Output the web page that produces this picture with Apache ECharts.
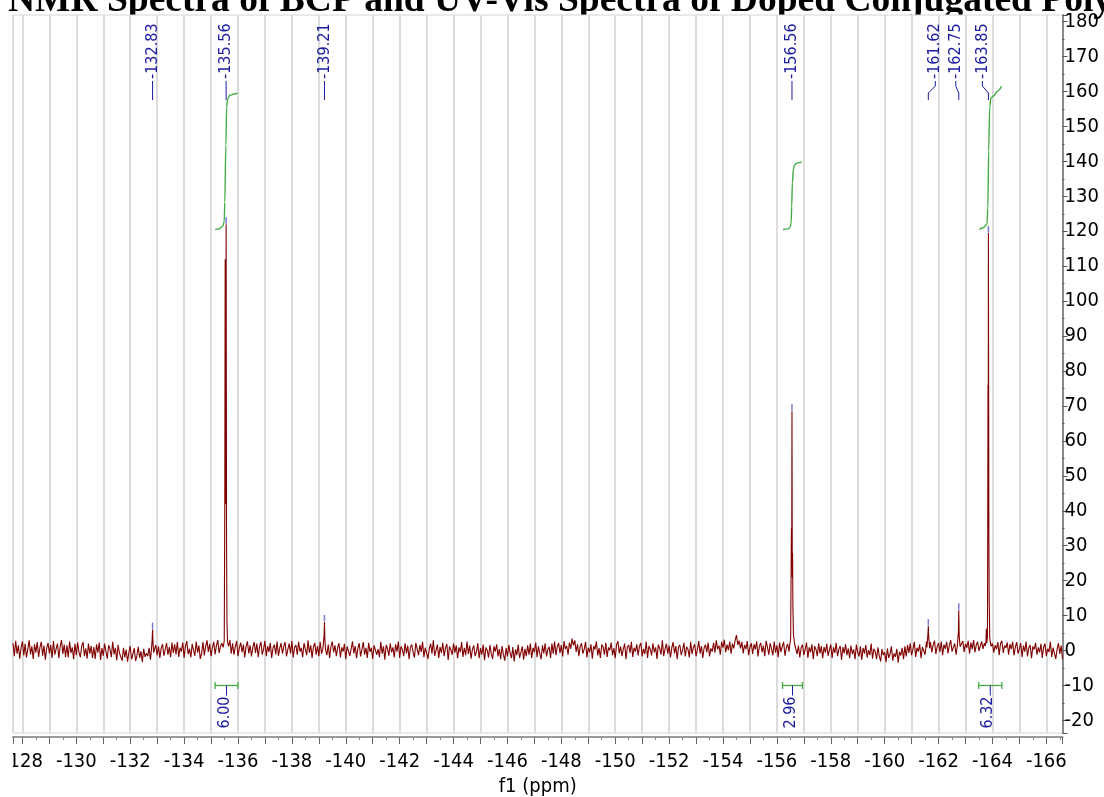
<!DOCTYPE html>
<html>
<head>
<meta charset="utf-8">
<script src="https://cdn.jsdelivr.net/npm/echarts/dist/echarts.min.js"></script>
<style>
  html, body { margin: 0; padding: 0; background: #fff; overflow: hidden; }
  #chart { width: 1104px; height: 797px; }
</style>
</head>
<body>
<div id="chart"></div>
<script>
// ---- 19F spectrum data (f1 in ppm) ----
const titleText = 'NMR Spectra of BCP and UV-Vis Spectra of Doped Conjugated Polymers';

// Baseline trace: first point and spacing of the digitised f1 axis (one row = 1 ppm)
const noiseStartPpm = -127.65;
const noiseStepPpm = -0.05;
const noiseIntensity = [
  2.1,-1.6,2.8,-0.9,1.5,-2.3,0.8,2.6,-1.4,1.9,-2.0,0.4,2.9,-1.1,1.2,-2.4,1.8,-0.6,2.4,-1.8,
  0.9,2.5,-1.5,1.4,-2.6,0.7,2.2,-0.8,1.6,-2.1,2.7,-1.2,0.5,2.0,-2.2,1.1,3.0,-1.0,1.7,-1.9,
  1.5,-2.0,2.6,-0.7,0.9,-2.5,1.9,-1.3,2.3,-0.5,-1.9,1.4,2.4,-1.6,0.6,-2.3,2.0,-0.9,1.3,-2.1,
  1.0,-2.4,1.8,-0.6,2.3,-2.7,0.7,-1.5,2.0,-0.3,-2.3,1.5,0.4,-1.9,2.5,-1.1,0.8,-2.8,1.6,-0.7,
  -0.4,-2.9,0.8,-2.0,0.3,-3.2,-0.6,1.3,-2.5,-1.0,0.7,-3.0,-1.4,1.1,-2.1,-0.2,-3.3,0.5,-1.8,-0.8,
  -1.6,0.8,-2.6,-0.4,0.6,-1.1,1.6,-1.4,1.2,-2.1,0.7,1.8,-1.5,0.3,2.1,-1.2,1.0,-1.9,2.3,-0.7,
  1.8,-1.1,2.5,-1.8,0.8,-0.3,2.3,-2.1,1.2,2.7,-1.0,0.5,-2.0,1.9,0.1,-1.5,2.6,-0.6,1.4,-2.4,
  -0.8,2.4,-1.4,1.2,2.9,-0.4,1.9,-1.6,0.8,2.5,-1.1,1.5,3.0,-0.7,1.1,2.1,1.2,0.8,1.5,1.0,
  1.4,3.0,-0.9,2.1,-1.2,1.1,2.8,-1.6,0.7,2.3,-0.5,1.7,-2.0,1.2,2.6,-0.8,1.5,-1.7,0.9,2.4,
  -0.7,2.0,-1.9,1.1,2.5,-1.2,0.5,2.8,-1.6,1.3,-0.4,2.2,-2.1,0.8,1.7,-1.1,2.6,-1.5,0.7,2.1,
  -0.9,1.2,2.4,-1.7,0.3,2.0,-0.8,2.7,-2.0,0.9,1.6,-1.2,2.5,-0.3,0.8,-1.9,2.1,0.4,-1.3,2.9,
  -0.6,1.5,-2.1,1.1,2.2,-1.2,1.3,-1.6,2.5,-0.9,0.5,0.4,0.6,-1.3,1.7,-2.1,1.1,2.6,-0.5,1.5,
  -1.6,0.8,2.1,-2.0,0.9,-0.3,1.9,-2.5,1.2,1.6,-1.5,0.5,2.6,-0.8,1.3,-2.2,0.7,2.1,-1.7,0.3,
  2.4,-1.2,0.8,-2.1,2.2,-0.4,0.8,-2.4,1.5,1.9,-1.2,0.4,-1.9,2.5,-0.9,1.2,-2.6,1.6,0.5,-1.5,
  2.1,-0.5,0.9,-2.0,1.8,-0.3,2.6,-2.1,1.2,0.3,-1.6,2.1,-0.8,1.4,-2.5,1.0,1.7,-0.5,-2.0,2.2,
  0.4,-1.3,1.6,-0.4,2.5,-1.9,0.8,1.3,-2.4,0.5,2.0,-0.9,2.9,-1.5,0.1,1.7,-2.1,1.0,-0.7,2.2,
  -1.6,0.7,1.9,-2.7,1.2,0.2,-1.2,2.0,-0.6,1.5,-2.2,0.9,-0.5,2.4,-1.8,0.8,-1.3,2.6,-1.0,1.4,
  -2.3,0.3,1.5,-1.6,-0.4,2.1,-2.2,0.7,-1.2,1.7,-2.8,0.9,0.1,-2.0,1.6,-0.9,-2.4,1.2,-0.3,1.8,
  -1.7,0.4,-2.5,1.3,-1.1,-2.9,0.8,-1.7,1.6,-0.7,-2.2,1.0,-3.1,0.3,-1.3,1.7,-2.1,-0.5,1.2,-2.6,
  0.5,-1.6,1.5,-1.2,2.0,-2.2,0.8,-0.5,2.3,-1.9,1.2,-0.8,-2.5,1.5,-0.8,2.1,-1.7,0.4,1.1,-2.1,
  2.0,-0.9,2.6,-1.3,1.1,2.2,-0.7,1.6,-1.7,2.7,0.4,1.3,-1.2,2.3,0.5,3.4,1.5,2.9,-0.4,1.8,
  -1.6,1.2,2.1,-0.9,0.4,2.5,-2.0,0.8,-0.5,1.8,-2.3,1.3,0.3,2.6,-1.4,0.7,-2.1,1.7,1.0,-1.2,
  2.2,-1.8,0.9,0.1,2.3,-1.3,0.7,-2.2,1.7,2.7,-0.8,1.2,-1.6,0.4,2.0,-2.5,1.0,1.6,-0.7,2.5,
  -1.8,0.8,-0.3,1.8,-1.4,1.2,2.2,-1.7,0.5,-1.0,2.6,-2.1,1.3,0.3,-1.4,2.1,-0.5,0.9,-2.4,1.7,
  0.6,-1.2,2.9,-1.6,0.4,2.0,-0.9,1.4,-2.0,0.8,2.4,-0.8,1.3,-2.5,1.0,1.6,-1.3,0.2,2.2,-1.7,
  1.1,0.4,-2.0,2.5,-1.0,0.9,1.8,-1.6,0.3,2.7,-0.9,1.3,-2.1,0.8,1.7,-0.5,2.3,-1.7,0.6,-0.3,
  2.2,-0.6,2.9,0.4,1.4,-1.2,2.5,0.8,3.1,-0.5,1.7,0.1,2.6,-0.9,2.0,0.6,2.9,4.4,1.6,2.8,
  0.6,2.5,-0.8,1.6,0.4,2.7,-1.3,1.0,2.1,-1.0,1.8,0.3,2.6,-1.7,1.2,2.2,-0.5,1.4,-1.6,2.8,
  0.9,-1.2,2.1,0.5,-1.4,2.6,-0.6,1.5,-1.9,2.3,-0.4,1.1,2.5,-1.5,0.8,1.9,-0.3,1.2,1.0,0.8,
  0.8,2.0,-1.0,1.4,-2.0,0.8,1.7,-1.3,0.3,2.3,-2.1,0.9,-0.5,1.8,-2.5,1.2,0.4,-1.6,2.1,-0.8,
  1.3,-2.2,1.0,-0.6,1.9,-1.5,0.2,1.7,-2.1,0.9,-0.7,2.2,-1.6,0.4,1.3,-2.6,1.0,-0.8,1.8,-1.3,
  0.6,-2.2,1.4,-1.0,0.3,-2.5,1.7,-0.5,-1.7,1.2,-2.7,0.8,-0.9,1.6,-2.0,0.1,-1.3,2.0,-2.3,0.5,
  -0.3,-2.5,0.9,-1.6,-3.1,0.4,-1.3,-0.5,-3.3,0.6,-2.1,-1.0,1.2,-2.9,-0.8,-1.8,0.5,-3.5,-0.4,-1.4,
  0.8,-2.5,1.2,-1.7,1.6,-0.7,2.1,-1.3,0.4,2.5,-1.8,0.8,-0.3,1.8,-2.2,1.0,1.5,-1.2,2.6,0.6,
  0.6,2.4,-0.5,1.6,2.8,-1.0,1.2,2.1,-0.4,2.6,-1.3,1.7,0.5,2.5,-0.8,1.4,3.0,-0.3,0.9,2.0,
  -1.2,1.5,1.4,0.9,0.7,2.7,-0.4,1.9,0.8,2.8,-0.9,2.3,0.4,3.0,-0.5,1.6,2.5,-0.1,1.3,2.6,
  0.5,2.1,1.6,-0.4,1.3,0.9,1.8,2.0,-0.6,1.5,0.4,2.4,-1.3,2.0,2.8,-0.7,1.4,0.8,2.3,-1.2,
  1.8,0.4,2.5,-1.4,1.0,2.4,-0.9,0.4,2.1,-1.8,1.4,-0.3,2.6,-1.7,0.8,1.6,-2.2,1.2,0.3,2.2,
  -1.2,0.9,-0.5,1.9,-2.1,1.0,2.0,-1.6,0.5,-0.4,2.5,-1.8,0.8,1.3,-2.4,0.4,2.1,-1.0,1.4,-2.5
];

// Picked peaks (ppm) and the line shape around each of them [ppm, intensity]
const peakPpm = [-132.83, -135.56, -139.21, -156.56, -161.62, -162.75, -163.85];
const peakProfiles = [
  [[-132.79, 0.4], [-132.815, 3.2], [-132.83, 6.0], [-132.845, 2.4], [-132.87, -0.6]],
  [[-135.45, 0.9], [-135.49, 2.8], [-135.51, 41], [-135.525, 112], [-135.54, 42], [-135.55, 70],
   [-135.56, 122], [-135.575, 32], [-135.59, 9], [-135.61, 2.5], [-135.65, 1.2]],
  [[-139.17, 0.6], [-139.195, 4.2], [-139.21, 8.2], [-139.225, 3.1], [-139.25, 0.2]],
  [[-156.47, 1.2], [-156.51, 3.4], [-156.525, 20], [-156.54, 35], [-156.55, 24], [-156.56, 68.5],
   [-156.572, 21], [-156.582, 28], [-156.595, 12], [-156.615, 4.5], [-156.66, 1.8]],
  [[-161.57, 0.9], [-161.605, 4.6], [-161.62, 7.0], [-161.635, 3.8], [-161.67, 0.7]],
  [[-162.70, 1.6], [-162.735, 5.2], [-162.75, 11.5], [-162.765, 4.3], [-162.80, 1.1]],
  [[-163.73, 1.3], [-163.76, 2.6], [-163.775, 6.2], [-163.79, 2.1], [-163.815, 4], [-163.825, 31],
   [-163.835, 76], [-163.845, 46], [-163.85, 119.5], [-163.868, 31], [-163.88, 14], [-163.90, 3.5],
   [-163.95, 1.2]]
];

// Integrated regions (ppm from, ppm to), their values and the running-integral shape (0..1)
const integralRanges = [[-135.15, -136.00], [-156.21, -156.95], [-163.49, -164.35]];
const integralValues = [6.00, 2.96, 6.32];
const integralProfiles = [
  [[-135.154, 0], [-135.30, 0.005], [-135.44, 0.025], [-135.49, 0.06], [-135.51, 0.2], [-135.55, 0.62],
   [-135.58, 0.9], [-135.61, 0.955], [-135.70, 0.985], [-135.85, 0.995], [-135.983, 1]],
  [[-156.228, 0], [-156.40, 0.01], [-156.488, 0.03], [-156.53, 0.1], [-156.55, 0.35], [-156.575, 0.7],
   [-156.614, 0.9], [-156.66, 0.96], [-156.70, 0.98], [-156.80, 0.995], [-156.922, 1]],
  [[-163.509, 0], [-163.65, 0.012], [-163.795, 0.035], [-163.83, 0.15], [-163.86, 0.55], [-163.90, 0.86],
   [-163.944, 0.915], [-164.03, 0.93], [-164.20, 0.965], [-164.34, 1.0]]
];

// ---- drawing parameters ----
const FONT = '"DejaVu Sans Condensed", "DejaVu Sans", sans-serif';
const INK = '#1c1ca0';
const TRACE = '#800000';
const GREEN = '#43ac43';
const integralBase = 120.5;      // intensity level where integral curves start
const integralScale = 6.5;       // curve rise per integral unit
const bracketLevel = -10;        // intensity level of the integral brackets
const labelNudgePx = [0, 0, 0, 0, 7, -3, -6];

// Build the trace: baseline points outside peak windows plus peak line shapes
const peakWindows = peakProfiles.map(p => [Math.max(...p.map(q => q[0])), Math.min(...p.map(q => q[0]))]);
const trace = [];
noiseIntensity.forEach((v, i) => {
  const x = +(noiseStartPpm + i * noiseStepPpm).toFixed(3);
  if (!peakWindows.some(w => x <= w[0] + 1e-6 && x >= w[1] - 1e-6)) trace.push([x, v]);
});
peakProfiles.forEach(p => p.forEach(q => trace.push(q)));
trace.sort((a, b) => b[0] - a[0]);

const peakTops = peakProfiles.map(p => Math.max(...p.map(q => q[1])));

const integralSeries = integralProfiles.map((prof, k) => ({
  type: 'line',
  data: prof.map(([x, f]) => [x, integralBase + integralValues[k] * integralScale * f]),
  showSymbol: false,
  smooth: 0.35,
  smoothMonotone: 'x',
  lineStyle: { color: GREEN, width: 1.4 },
  silent: true,
  z: 4
}));

const chart = echarts.init(document.getElementById('chart'), null, { renderer: 'canvas' });
chart.setOption({
  animation: false,
  backgroundColor: '#fff',
  title: {
    text: titleText,
    left: 8, top: -18, padding: 0, z: -1,
    textStyle: { fontFamily: '"Liberation Serif", "Times New Roman", serif', fontWeight: 'bold', fontSize: 37.5, color: '#000' }
  },
  grid: {
    left: 13, right: 41.5, top: 15, bottom: 64,
    outerBoundsMode: 'none', containLabel: false,
    show: true, backgroundColor: '#fff', borderColor: '#d4d4d4', borderWidth: 1
  },
  xAxis: {
    type: 'value', inverse: true, min: -166.6, max: -127.65,
    splitNumber: 39, minInterval: 1, maxInterval: 1,
    offset: 4,
    axisLine: { show: true, onZero: false, lineStyle: { color: '#9a9a9a', width: 2 } },
    axisTick: { show: true, length: 7, lineStyle: { color: '#666', width: 1 } },
    minorTick: { show: true, splitNumber: 2, length: 3, lineStyle: { color: '#888', width: 1 } },
    axisLabel: {
      margin: 15, fontSize: 20, fontFamily: FONT, color: '#000',
      showMinLabel: false, showMaxLabel: false,
      formatter: v => (Number.isInteger(v) && v % 2 === 0) ? String(v) : ''
    },
    splitLine: { show: true, lineStyle: { color: '#dcdcdc', width: 2 } },
    name: 'f1 (ppm)', nameLocation: 'middle', nameGap: 38,
    nameTextStyle: { fontSize: 20, fontFamily: FONT, color: '#000' }
  },
  yAxis: {
    type: 'value', position: 'right', min: -23.6, max: 181.9,
    splitNumber: 20, minInterval: 10, maxInterval: 10,
    axisLine: { show: true, onZero: false, lineStyle: { color: '#8a8a8a', width: 2 } },
    axisTick: { show: true, length: 5, lineStyle: { color: '#555', width: 1 } },
    minorTick: { show: true, splitNumber: 2, length: 2, lineStyle: { color: '#555', width: 1 } },
    axisLabel: {
      margin: 2, fontSize: 20, fontFamily: FONT, color: '#000',
      showMinLabel: false, showMaxLabel: false,
      formatter: v => (Number.isInteger(v) && v % 10 === 0) ? String(v) : ''
    },
    splitLine: { show: false }
  },
  graphic: [
    { type: 'rect', shape: { x: 0, y: 742, width: 13, height: 40 }, style: { fill: '#fff' }, z: 100 }
  ],
  series: [
    {
      type: 'line',
      data: trace,
      showSymbol: false,
      lineStyle: { color: TRACE, width: 1.1 },
      silent: true,
      z: 3
    },
    ...integralSeries,
    {
      // peak picks: marker above each top, connector and rotated ppm label
      type: 'custom',
      coordinateSystem: 'cartesian2d',
      data: peakPpm.map((p, i) => [p, peakTops[i], i]),
      encode: { x: 0, y: 1 },
      silent: true,
      z: 6,
      renderItem: (params, api) => {
        const ppm = api.value(0), top = api.value(1), i = api.value(2);
        const pt = api.coord([ppm, top]);
        const px = pt[0], py = pt[1];
        const lx = px + labelNudgePx[i];
        return {
          type: 'group',
          children: [
            { type: 'line', shape: { x1: px, y1: py - 0.5, x2: px, y2: py - 7 }, style: { stroke: '#7a7ad2', lineWidth: 1.5 } },
            { type: 'polyline', shape: { points: [[px, 100], [px, 93], [lx, 86], [lx, 81]] }, style: { stroke: INK, lineWidth: 1, fill: null } },
            { type: 'text', x: lx, y: 79, rotation: Math.PI / 2,
              style: { text: ppm.toFixed(2), fill: INK, fontSize: 16, fontFamily: FONT, align: 'left', verticalAlign: 'middle' } }
          ]
        };
      }
    },
    {
      // integral brackets with their values
      type: 'custom',
      coordinateSystem: 'cartesian2d',
      data: integralRanges.map((r, k) => [r[0], r[1], integralValues[k]]),
      encode: { x: [0, 1] },
      silent: true,
      z: 6,
      renderItem: (params, api) => {
        const a = api.coord([api.value(0), bracketLevel]);
        const b = api.coord([api.value(1), bracketLevel]);
        const y = a[1], cx = (a[0] + b[0]) / 2;
        const s = { stroke: GREEN, lineWidth: 1.3 };
        return {
          type: 'group',
          children: [
            { type: 'line', shape: { x1: a[0], y1: y, x2: b[0], y2: y }, style: s },
            { type: 'line', shape: { x1: a[0], y1: y - 3.5, x2: a[0], y2: y + 3.5 }, style: s },
            { type: 'line', shape: { x1: b[0], y1: y - 3.5, x2: b[0], y2: y + 3.5 }, style: s },
            { type: 'line', shape: { x1: cx, y1: y, x2: cx, y2: y + 10 }, style: { stroke: INK, lineWidth: 1 } },
            { type: 'text', x: cx - 2, y: y + 11, rotation: Math.PI / 2,
              style: { text: api.value(2).toFixed(2), fill: INK, fontSize: 16, fontFamily: FONT, align: 'right', verticalAlign: 'middle' } }
          ]
        };
      }
    }
  ]
});
</script>
</body>
</html>
